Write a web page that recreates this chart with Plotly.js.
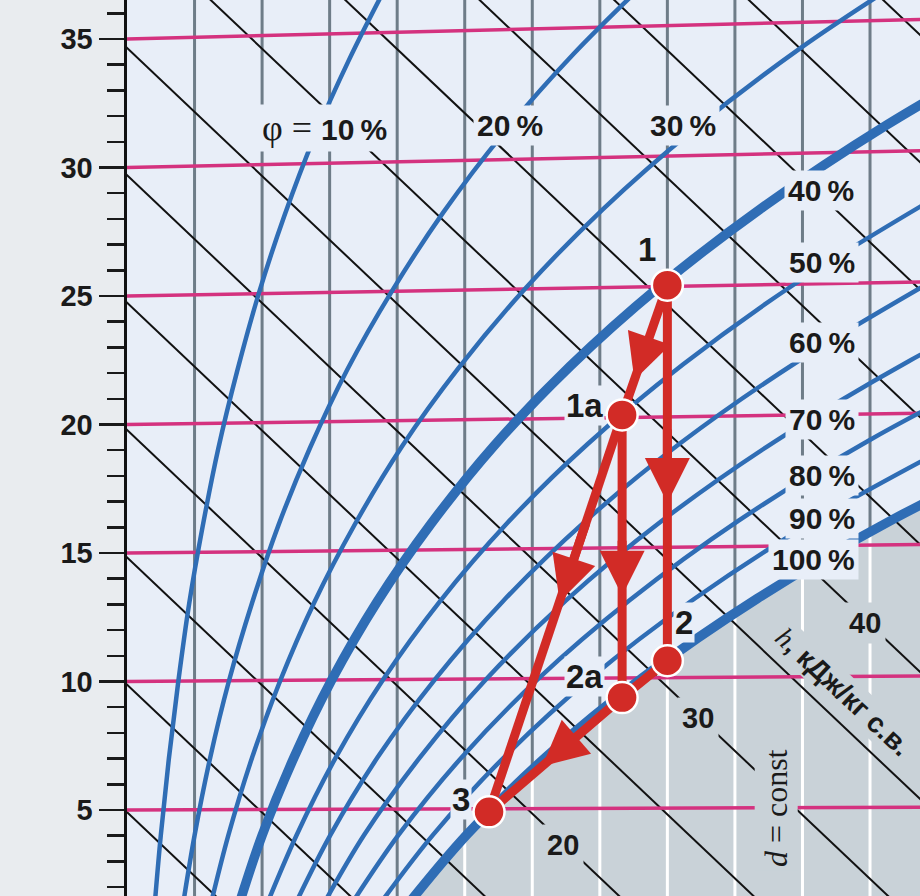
<!DOCTYPE html>
<html><head><meta charset="utf-8">
<script src="https://cdn.plot.ly/plotly-3.0.1.min.js"></script>
<style>html,body{margin:0;padding:0;background:#e9ecef;}#chart{width:920px;height:896px;}</style>
</head><body><div id="chart"></div>
<script>
// ---------- data ----------
const tempTicks = [5, 10, 15, 20, 25, 30, 35];            // °C labels on the left scale
const isoTemps  = [0, 5, 10, 15, 20, 25, 30, 35, 40];      // isotherms t = const
const hValues   = [5, 10, 15, 20, 25, 30, 35, 40, 45, 50, 55, 60, 65];        // kJ/kg
const hStartY   = [4.92, 9.88, 14.83, 19.79, 24.74, 29.70, 34.65, 39.60, 44.56, 49.51, 54.47, 59.43, 64.38]; // where each h-line meets d = 0
const hLabels   = [20, 30, 40];
const hLabelD   = [6.45, 8.45, 10.93];
const dLines    = [1, 2, 3, 4, 5, 6, 7, 8, 9, 10, 11];     // g/kg
const dLineSatT = [null, null, null, null, 3.9, 6.5, 8.73, 10.68, 12.44, 14.04, 15.5]; // t where d-line meets φ = 100 %
const phiT      = [1, 4, 7, 10, 13, 16, 19, 22, 25, 28, 31, 34, 37];   // °C
const phi10  = [0.40, 0.50, 0.62, 0.76, 0.92, 1.12, 1.35, 1.63, 1.95, 2.33, 2.77, 3.29, 3.88];
const phi20  = [0.81, 1.00, 1.23, 1.51, 1.85, 2.24, 2.71, 3.26, 3.92, 4.68, 5.57, 6.61, 7.81];
const phi30  = [1.21, 1.50, 1.85, 2.27, 2.77, 3.37, 4.07, 4.91, 5.89, 7.04, 8.39, 9.96, 11.79];
const phi40  = [1.62, 2.00, 2.47, 3.03, 3.70, 4.50, 5.44, 6.56, 7.88, 9.43, 11.24, 13.35];
const phi50  = [2.02, 2.51, 3.09, 3.79, 4.63, 5.63, 6.82, 8.23, 9.88, 11.83];
const phi60  = [2.43, 3.01, 3.71, 4.56, 5.57, 6.77, 8.20, 9.90, 11.90];
const phi70  = [2.84, 3.51, 4.34, 5.32, 6.50, 7.91, 9.59, 11.58, 13.92];
const phi80  = [3.24, 4.02, 4.96, 6.09, 7.45, 9.06, 10.99, 13.27];
const phi90  = [3.65, 4.53, 5.59, 6.86, 8.39, 10.21, 12.38];
const phi100 = [4.06, 5.03, 6.21, 7.63, 9.33, 11.36, 13.79];
const phiLevels = [10, 20, 30, 40, 50, 60, 70, 80, 90, 100];
const phiCurves = [phi10, phi20, phi30, phi40, phi50, phi60, phi70, phi80, phi90, phi100];
const phiLabelD = [2.93, 5.67, 8.23, 10.27, 10.29, 10.29, 10.29, 10.29, 10.29, 10.16];
const phiLabelY = [31.55, 31.62, 31.62, 29.12, 26.32, 23.21, 20.21, 18.03, 16.36, 14.73];
// process points
const ptNames = ['1', '1a', '2', '2a', '3'];
const ptD     = [8.0, 7.33, 8.0, 7.33, 5.36];
const ptT     = [25.05, 20.1, 10.65, 9.25, 4.88];
const paths   = [['1', '2'], ['1', '1a'], ['1a', '2a'], ['1a', '3'], ['2', '2a', '3']];
const arrows  = [['1', '1a', 0.73], ['1', '2', 0.58], ['1a', '2a', 0.64], ['1a', '3', 0.47], ['2a', '3', 0.60]];

// ---------- chart skew (oblique i-d projection) ----------
const SKEW = 0.00185;     // isotherm fan
const H_SLOPE = 2.489;    // drop of h-lines per g/kg
const Y = (d, t) => t * (1 + SKEW * d);

const BLUE = '#2f6db5', PINK = '#d4327f', RED = '#d22b26', DGRAY = '#6e7c88';
const GRAYREG = '#c9d2d8', PLOTBG = '#e8eef8', PAPER = '#e9ecef', INK = '#1a1a1a';
const COND = "'Liberation Sans',Arial,sans-serif";
const SERIF = "'Liberation Serif','DejaVu Serif',serif";

const traces = [];
// fog zone below saturation curve
traces.push({x: phi100, y: phi100.map((d, i) => Y(d, phiT[i])), mode: 'lines', line: {width: 0, shape: 'spline'},
  fill: 'tozeroy', fillcolor: GRAYREG, hoverinfo: 'skip'});
// d = const lines
const dgx = [], dgy = [], dwx = [], dwy = [];
dLines.forEach((d, i) => {
  const s = dLineSatT[i];
  if (s === null) { dgx.push(d, d, null); dgy.push(-2, 40, null); }
  else {
    const ys = Y(d, s);
    dgx.push(d, d, null); dgy.push(ys, 40, null);
    dwx.push(d, d, null); dwy.push(-2, ys, null);
  }
});
traces.push({x: dgx, y: dgy, mode: 'lines', line: {color: DGRAY, width: 3}, hoverinfo: 'skip'});
traces.push({x: dwx, y: dwy, mode: 'lines', line: {color: '#ffffff', width: 3}, hoverinfo: 'skip'});
// h = const lines
const hx = [], hy = [];
hValues.forEach((h, i) => { hx.push(-1, 13, null); hy.push(hStartY[i] + H_SLOPE, hStartY[i] - 13 * H_SLOPE, null); });
traces.push({x: hx, y: hy, mode: 'lines', line: {color: '#111111', width: 2}, hoverinfo: 'skip'});
// isotherms
const ix = [], iy = [];
isoTemps.forEach(t => { ix.push(0, 12.5, null); iy.push(Y(0, t), Y(12.5, t), null); });
traces.push({x: ix, y: iy, mode: 'lines', line: {color: PINK, width: 3.5}, hoverinfo: 'skip'});
// relative humidity curves
phiCurves.forEach((arr, k) => {
  const thick = (phiLevels[k] === 40 || phiLevels[k] === 100);
  traces.push({x: arr, y: arr.map((d, i) => Y(d, phiT[i])), mode: 'lines',
    line: {color: BLUE, width: thick ? 9.5 : 4.5, shape: 'spline'}, hoverinfo: 'skip'});
});
// process
const P = n => { const i = ptNames.indexOf(n); return [ptD[i], Y(ptD[i], ptT[i])]; };
paths.forEach(p => {
  traces.push({x: p.map(n => P(n)[0]), y: p.map(n => P(n)[1]), mode: 'lines',
    line: {color: RED, width: 9}, hoverinfo: 'skip'});
});
traces.push({x: ptNames.map(n => P(n)[0]), y: ptNames.map(n => P(n)[1]), mode: 'markers',
  marker: {size: 31, color: RED, line: {color: '#ffffff', width: 2.5}}, hoverinfo: 'skip'});

// ---------- annotations ----------
const ann = [];
const lab = (x, y, text, size, opts) => Object.assign({x, y, xref: 'x', yref: 'y', text, showarrow: false,
  font: {family: COND, size, color: INK, weight: 700}, bgcolor: PLOTBG, borderpad: 2, xanchor: 'center', yanchor: 'middle'}, opts || {});
phiLevels.forEach((p, k) => {
  let txt = p + '\u2009%';
  if (k === 0) txt = "<span style=\"font-family:'Liberation Serif',serif;font-weight:400;font-size:36px\">φ = </span>" + txt;
  ann.push(lab(phiLabelD[k], phiLabelY[k], txt, 30, {borderpad: 3}));
});
// point labels
const ptLab = {'1': [7.70, 26.80], '1a': [6.78, 20.72], '2': [8.25, 12.28], '2a': [6.78, 10.18], '3': [4.94, 5.40]};
Object.keys(ptLab).forEach(n => ann.push(lab(ptLab[n][0], ptLab[n][1], n, 33, {borderpad: 1})));
// enthalpy labels
hLabels.forEach((h, k) => {
  const i = hValues.indexOf(h);
  ann.push(lab(hLabelD[k], hStartY[i] - H_SLOPE * hLabelD[k] - 0.1, String(h), 29, {bgcolor: GRAYREG, borderpad: 4}));
});
ann.push(lab(10.60, 9.62, "<span style=\"font-family:'Liberation Serif',serif;font-style:italic;font-weight:400\">h</span>, кДж/кг с.в.", 28,
  {bgcolor: GRAYREG, textangle: 43, borderpad: 1}));
ann.push(lab(9.61, 5.08, "<i>d</i> = const", 32, {bgcolor: GRAYREG, textangle: -90, borderpad: 3,
  font: {family: SERIF, size: 32, color: INK, weight: 400}}));
// arrow heads
arrows.forEach(a => {
  const A = P(a[0]), B = P(a[1]), f = a[2];
  const tip = [A[0] + f * (B[0] - A[0]), A[1] + f * (B[1] - A[1])];
  const tail = [A[0] + (f - 0.2) * (B[0] - A[0]), A[1] + (f - 0.2) * (B[1] - A[1])];
  ann.push({x: tip[0], y: tip[1], ax: tail[0], ay: tail[1], xref: 'x', yref: 'y', axref: 'x', ayref: 'y',
    text: '', showarrow: true, arrowhead: 2, arrowsize: 1.0, arrowwidth: 9, arrowcolor: RED});
});

const layout = {
  width: 920, height: 896,
  margin: {l: 127, r: 0, t: 0, b: 0, pad: 0},
  paper_bgcolor: PAPER, plot_bgcolor: PLOTBG,
  showlegend: false, hovermode: false,
  xaxis: {range: [0, 11.74], visible: false, fixedrange: true},
  yaxis: {range: [1.654, 36.517], tickvals: tempTicks, ticktext: tempTicks.map(String),
    ticks: 'outside', ticklen: 25, tickwidth: 2.5, tickcolor: INK,
    showline: true, linecolor: '#111111', linewidth: 3.5, showgrid: false, zeroline: false,
    tickfont: {family: COND, size: 29, color: INK, weight: 700},
    minor: {dtick: 1, tick0: 0, ticks: 'outside', ticklen: 17, tickwidth: 2.5, tickcolor: INK, showgrid: false},
    fixedrange: true},
  annotations: ann
};
Plotly.newPlot('chart', traces, layout, {displayModeBar: false, staticPlot: true});
</script></body></html>
